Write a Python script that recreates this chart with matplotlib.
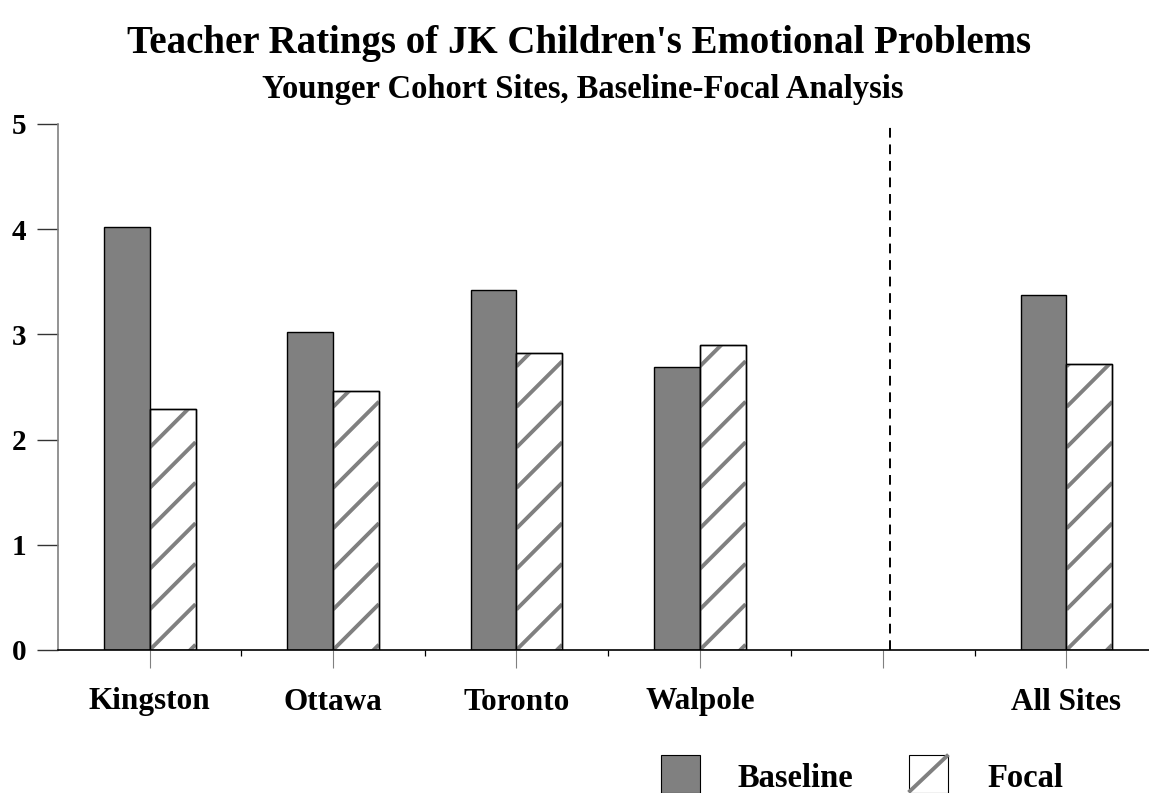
import matplotlib
matplotlib.use("Agg")
import matplotlib.pyplot as plt
from matplotlib.patches import Rectangle
from matplotlib.lines import Line2D
import numpy as np

# data
sites = ["Kingston", "Ottawa", "Toronto", "Walpole", "", "All Sites"]
baseline = [4.02, 3.02, 3.42, 2.69, np.nan, 3.37]
focal = [2.29, 2.46, 2.82, 2.90, np.nan, 2.72]

GRAY = "#808080"
plt.rcParams["font.family"] = ["Liberation Serif", "DejaVu Serif"]
plt.rcParams["font.weight"] = "bold"

fig = plt.figure(figsize=(11.49, 7.93), dpi=100)
ax = fig.add_axes([58 / 1149, 143 / 793, 1 - 58 / 1149, 526 / 793])

x = np.arange(len(sites))
w = 0.25
ax.bar(x - w / 2, baseline, w, color=GRAY, edgecolor="black", linewidth=1.0, zorder=2)
fbars = ax.bar(x + w / 2, focal, w, color="white", edgecolor="black", linewidth=1.0, zorder=2)

ax.set_xlim(-0.5, 5.45)
ax.set_ylim(0, 5)

# diagonal stripes for focal bars (45 deg in pixels)
px_x = ax.bbox.width / (5.45 + 0.5)
px_y = ax.bbox.height / 5
slope = px_x / px_y
period = 40.5 / px_y
for bar in fbars:
    h = bar.get_height()
    if not np.isfinite(h) or h <= 0:
        continue
    x0 = bar.get_x()
    x1 = x0 + bar.get_width()
    k = -np.ceil(slope * (x1 - x0) / period)
    while k * period < h:
        y0 = k * period
        ln, = ax.plot([x0, x1], [y0, y0 + slope * (x1 - x0)], color=GRAY,
                      lw=2.8, solid_capstyle="butt", zorder=2.5)
        ln.set_clip_path(bar)
        k += 1
    ax.add_patch(Rectangle((x0, 0), x1 - x0, h, fill=False, edgecolor="black",
                           linewidth=1.0, zorder=3))

# dashed separator before "All Sites"
ax.plot([4.04, 4.04], [0, 5], color="black", lw=1.4, ls=(0, (5, 3.5)), zorder=3)

for s in ["top", "right"]:
    ax.spines[s].set_visible(False)
ax.spines["left"].set_color(GRAY)
ax.spines["left"].set_linewidth(1.2)
ax.spines["bottom"].set_color("black")
ax.spines["bottom"].set_linewidth(1.2)

ax.set_yticks(range(6))
ax.set_yticklabels([str(i) for i in range(6)], fontsize=21, fontweight="bold")
ax.tick_params(axis="y", length=15, width=1.0, color="#333333", pad=8)

ax.set_xticks(x)
ax.set_xticklabels(sites, fontsize=22.5, fontweight="bold")
ax.set_xticks(np.arange(0.5, 5, 1), minor=True)
ax.tick_params(axis="x", which="major", length=13, width=0.8, color=GRAY, pad=14)
ax.tick_params(axis="x", which="minor", length=4, width=0.9, color="black")

fig.text(0.504, 1 - 53 / 793, "Teacher Ratings of JK Children's Emotional Problems",
         ha="center", va="baseline", fontsize=28, fontweight="bold")
fig.text(0.507, 1 - 98 / 793, "Younger Cohort Sites, Baseline-Focal Analysis",
         ha="center", va="baseline", fontsize=23.5, fontweight="bold")

# legend drawn by hand to match the reference layout
W, H = 1149, 793
fig.patches.append(Rectangle((661 / W, 0), 39 / W, 38 / H, transform=fig.transFigure,
                             facecolor=GRAY, edgecolor="black", linewidth=0.8))
fig.text(738 / W, 6 / H, "Baseline", ha="left", va="baseline", fontsize=23.5, fontweight="bold")
fig.patches.append(Rectangle((909 / W, 0), 39 / W, 38 / H, transform=fig.transFigure,
                             facecolor="white", edgecolor="black", linewidth=0.8))
fig.lines.append(Line2D([910 / W, 947 / W], [2 / H, 37 / H], transform=fig.transFigure,
                        color=GRAY, lw=2.8))
fig.text(987 / W, 6 / H, "Focal", ha="left", va="baseline", fontsize=23.5, fontweight="bold")

fig.savefig("out.png", dpi=100)
